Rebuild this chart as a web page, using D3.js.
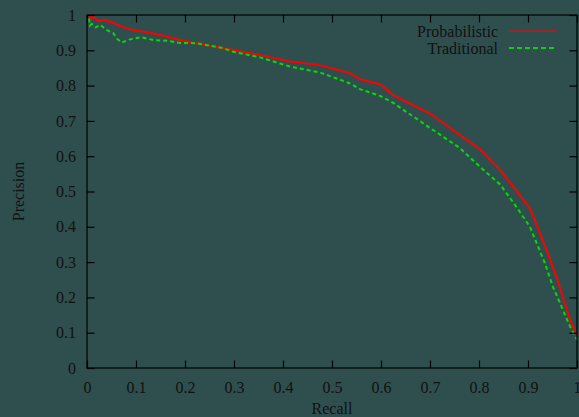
<!DOCTYPE html>
<html>
<head>
<meta charset="utf-8">
<script src="https://cdn.jsdelivr.net/npm/d3@7"></script>
<style>
    html, body { margin: 0; padding: 0; background: #2f4f4f; }
    svg { display: block; }
    text { font-family: "Liberation Serif", "DejaVu Serif", serif; fill: #111; }
</style>
</head>
<body>
<script>
// Precision / recall curves.
let probRecall = [0.004, 0.008, 0.012, 0.023, 0.037, 0.053, 0.067, 0.088, 0.122, 0.156, 0.19, 0.224, 0.278, 0.298, 0.353,
    0.414, 0.476, 0.537, 0.557, 0.598, 0.625, 0.70, 0.761, 0.802, 0.843, 0.873, 0.904, 0.935, 0.951, 0.958, 0.986, 1.0];
let probPrecision = [1.0, 0.99, 0.995, 0.983, 0.986, 0.978, 0.969, 0.959, 0.951, 0.941, 0.929, 0.920, 0.906, 0.901, 0.887,
    0.868, 0.858, 0.835, 0.818, 0.804, 0.773, 0.721, 0.660, 0.620, 0.561, 0.508, 0.452, 0.345, 0.285, 0.259, 0.136, 0.09];

let tradRecall = [0.004, 0.006, 0.01, 0.018, 0.027, 0.04, 0.054, 0.06, 0.071, 0.088, 0.111, 0.135, 0.163, 0.19, 0.224, 0.278,
    0.298, 0.353, 0.414, 0.476, 0.537, 0.557, 0.598, 0.625, 0.70, 0.761, 0.802, 0.843, 0.873, 0.904, 0.935, 0.951, 0.986, 1.0];
let tradPrecision = [0.99, 0.97, 0.975, 0.965, 0.972, 0.958, 0.948, 0.934, 0.922, 0.931, 0.937, 0.929, 0.927, 0.921, 0.920, 0.906,
    0.896, 0.880, 0.854, 0.837, 0.806, 0.790, 0.771, 0.751, 0.680, 0.623, 0.570, 0.520, 0.463, 0.400, 0.295, 0.230, 0.117, 0.08];

let xTicks = [0, 0.1, 0.2, 0.3, 0.4, 0.5, 0.6, 0.7, 0.8, 0.9, 1];
let yTicks = [0, 0.1, 0.2, 0.3, 0.4, 0.5, 0.6, 0.7, 0.8, 0.9, 1];

let series = [
    { name: 'Probabilistic', color: '#ff0000', dash: null, x: probRecall, y: probPrecision },
    { name: 'Traditional', color: '#00dd00', dash: '4,3', x: tradRecall, y: tradPrecision }
];

let width = 579, height = 417;
let plotLeft = 87, plotRight = 577, plotTop = 15, plotBottom = 368;

let svg = d3.select('body').append('svg')
    .attr('width', width)
    .attr('height', height);

svg.append('rect')
    .attr('width', width)
    .attr('height', height)
    .style('fill', '#2f4f4f');

let x = d3.scaleLinear().domain([0, 1]).range([plotLeft, plotRight]);
let y = d3.scaleLinear().domain([0, 1]).range([plotBottom, plotTop]);

// Curves first so the frame sits on top
let line = d3.line()
    .x(d => x(d[0]))
    .y(d => y(d[1]));

series.forEach(function(s) {
    let pts = s.x.map((r, i) => [r, s.y[i]]);
    svg.append('path')
        .datum(pts)
        .attr('d', line)
        .style('fill', 'none')
        .style('stroke', s.color)
        .style('stroke-width', 2)
        .style('stroke-dasharray', s.dash);
});

// Ticks point inward on every side, gnuplot style
let tickLen = 7.5;
function fmt(d) { return d === 0 || d === 1 ? String(d) : d.toFixed(1); }

let xAxis = svg.append('g')
    .attr('transform', 'translate(0,' + plotBottom + ')')
    .call(d3.axisBottom(x).tickValues(xTicks).tickSize(-tickLen).tickPadding(14).tickFormat(fmt));
let xTop = svg.append('g')
    .attr('transform', 'translate(0,' + plotTop + ')')
    .call(d3.axisTop(x).tickValues(xTicks).tickSize(-tickLen).tickFormat(''));
let yAxis = svg.append('g')
    .attr('transform', 'translate(' + plotLeft + ',0)')
    .call(d3.axisLeft(y).tickValues(yTicks).tickSize(-tickLen).tickPadding(11).tickFormat(fmt));
let yRight = svg.append('g')
    .attr('transform', 'translate(' + plotRight + ',0)')
    .call(d3.axisRight(y).tickValues(yTicks).tickSize(-tickLen).tickFormat(''));

[xAxis, xTop, yAxis, yRight].forEach(function(g) {
    g.select('.domain').remove();
    g.selectAll('line').style('stroke', '#000').style('stroke-width', 1.2);
    g.selectAll('text').style('font-size', '16px').style('fill', '#111')
        .style('font-family', '"Liberation Serif", serif');
});

svg.append('rect')
    .attr('x', plotLeft)
    .attr('y', plotTop)
    .attr('width', plotRight - plotLeft)
    .attr('height', plotBottom - plotTop)
    .style('fill', 'none')
    .style('stroke', '#000')
    .style('stroke-width', 1.2);

// Axis titles
svg.append('text')
    .attr('x', (plotLeft + plotRight) / 2)
    .attr('y', 414)
    .attr('text-anchor', 'middle')
    .style('font-size', '16px')
    .text('Recall');

svg.append('text')
    .attr('transform', 'translate(24,' + (plotTop + plotBottom) / 2 + ') rotate(-90)')
    .attr('text-anchor', 'middle')
    .style('font-size', '16px')
    .text('Precision');

// Legend
let legend = svg.append('g');
series.forEach(function(s, i) {
    let ly = 31 + i * 17;
    legend.append('text')
        .attr('x', 498)
        .attr('y', ly + 5.5)
        .attr('text-anchor', 'end')
        .style('font-size', '16px')
        .text(s.name);
    legend.append('line')
        .attr('x1', 509)
        .attr('x2', 557)
        .attr('y1', ly)
        .attr('y2', ly)
        .style('stroke', s.color)
        .style('stroke-width', s.dash ? 2 : 1)
        .style('stroke-dasharray', s.dash ? '5,3' : null);
});
</script>
</body>
</html>
